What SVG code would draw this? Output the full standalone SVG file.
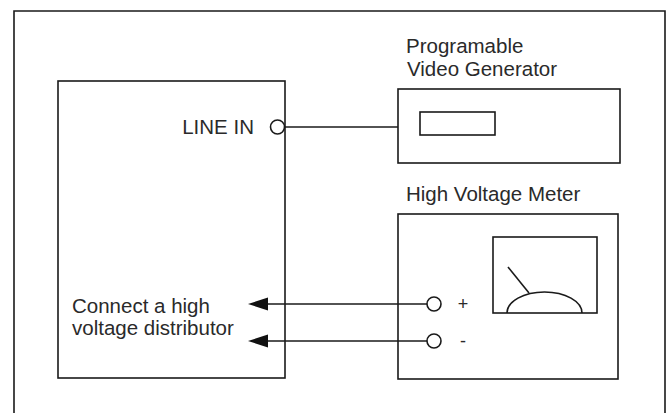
<svg xmlns="http://www.w3.org/2000/svg" width="671" height="413" viewBox="0 0 671 413">
<defs>
<style>
.ln{fill:none;stroke:#1a1a1a;stroke-width:1.6}
.tx{font-family:"Liberation Sans",Arial,sans-serif;font-size:20.5px;fill:#2a2a2a}
.sm{font-family:"Liberation Sans",Arial,sans-serif;font-size:18px;fill:#2a2a2a}
</style>
</defs>
<rect width="671" height="413" fill="#fff"/>
<g id="frame"><path class="ln" d="M14,420 V11 H665 V420"/></g>
<g id="receiver">
<rect class="ln" x="58" y="81" width="227" height="297"/>
<text class="tx" x="254" y="134" text-anchor="end">LINE IN</text>
<circle class="ln" cx="277.5" cy="127" r="7" fill="#fff"/>
<text class="tx" x="72" y="313">Connect a high</text>
<text class="tx" x="72" y="335">voltage distributor</text>
</g>
<g id="video-generator">
<text class="tx" x="406" y="53">Programable</text>
<text class="tx" x="407" y="76">Video Generator</text>
<rect class="ln" x="398" y="89" width="222" height="74"/>
<rect class="ln" x="420" y="112" width="75" height="23"/>
</g>
<g id="hv-meter">
<text class="tx" x="406" y="201">High Voltage Meter</text>
<rect class="ln" x="398" y="214" width="220" height="165"/>
<rect class="ln" x="493" y="237" width="104" height="76"/>
<path class="ln" d="M507,313 A37.5,21 0 0 1 582,313"/>
<line class="ln" x1="508" y1="267" x2="529" y2="293"/>
<circle class="ln" cx="434" cy="304" r="7" fill="#fff"/>
<circle class="ln" cx="434" cy="341" r="7" fill="#fff"/>
<text class="sm" x="463" y="310" text-anchor="middle">+</text>
<text class="sm" x="463" y="347" text-anchor="middle">-</text>
</g>
<g id="connectors">
<line class="ln" x1="285" y1="127" x2="398" y2="127"/>
<path class="ln" d="M427,304 H266"/>
<path d="M248,304 L268,297.5 L268,310.5 Z" fill="#111"/>
<path class="ln" d="M427,341 H266"/>
<path d="M248,341 L268,334.5 L268,347.5 Z" fill="#111"/>
</g>
</svg>
